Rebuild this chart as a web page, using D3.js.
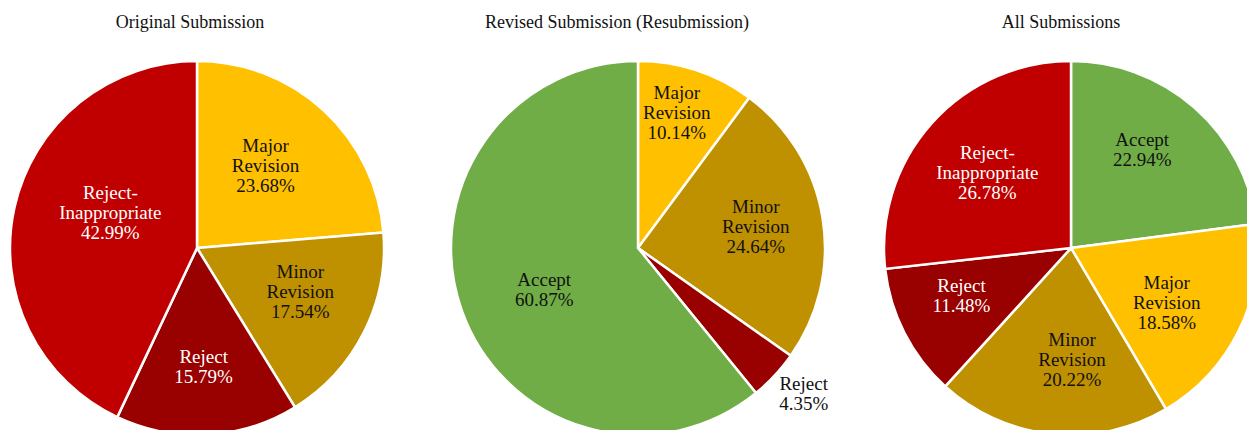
<!DOCTYPE html>
<html>
<head>
<meta charset="utf-8">
<title>Submissions</title>
<script src="https://d3js.org/d3.v7.min.js"></script>
<style>
  body { margin: 0; background: #fff; }
  svg text { font-family: "Liberation Serif", "DejaVu Serif", serif; }
</style>
</head>
<body>
<svg id="chart" width="1247" height="430"></svg>
<script>
// categories and values, clockwise from 12 o'clock
var originalCats = ["Major Revision", "Minor Revision", "Reject", "Reject-Inappropriate"];
var originalVals = [23.68, 17.54, 15.79, 42.99];

var revisedCats = ["Major Revision", "Minor Revision", "Reject", "Accept"];
var revisedVals = [10.14, 24.64, 4.35, 60.87];

var allCats = ["Accept", "Major Revision", "Minor Revision", "Reject", "Reject-Inappropriate"];
var allVals = [22.94, 18.58, 20.22, 11.48, 26.78];

var titles = ["Original Submission", "Revised Submission (Resubmission)", "All Submissions"];

var colors = {
  "Accept": "#70ad47",
  "Major Revision": "#ffc000",
  "Minor Revision": "#bf9000",
  "Reject": "#990000",
  "Reject-Inappropriate": "#c00000"
};
var textColors = {
  "Accept": "#111",
  "Major Revision": "#111",
  "Minor Revision": "#111",
  "Reject": "#fff",
  "Reject-Inappropriate": "#fff"
};

// label split into lines
var labelLines = {
  "Accept": ["Accept"],
  "Major Revision": ["Major", "Revision"],
  "Minor Revision": ["Minor", "Revision"],
  "Reject": ["Reject"],
  "Reject-Inappropriate": ["Reject-", "Inappropriate"]
};

// layout: label distance (fraction of radius) and angle nudge (degrees) per slice
var labelRadius = [
  [0.57, 0.6, 0.64, 0.5],
  [0.75, 0.64, 1.18, 0.55],
  [0.65, 0.59, 0.6, 0.64, 0.6]
];
var labelNudge = [
  [-2.6, -3.8, 0, 9.4],
  [-2.2, -1.1, -1.7, -4.7],
  [-5.4, 3.8, -6.4, 3.3, 0]
];

// pie centre and title centre for each panel
var charts = [
  { cats: originalCats, vals: originalVals, cx: 197, tx: 190 },
  { cats: revisedCats, vals: revisedVals, cx: 638, tx: 617 },
  { cats: allCats, vals: allVals, cx: 1071, tx: 1061 }
];

var svg = d3.select("#chart");
var cy = 248, r = 187;

var pie = d3.pie().sort(null).value(d => d.v);
var arc = d3.arc().innerRadius(0).outerRadius(r);

charts.forEach(function(c, ci) {
  var g = svg.append("g").attr("transform", "translate(" + c.cx + "," + cy + ")");

  svg.append("text")
    .attr("x", c.tx)
    .attr("y", 28)
    .attr("text-anchor", "middle")
    .style("font-size", "18px")
    .style("fill", "#111")
    .text(titles[ci]);

  var data = c.cats.map((k, i) => ({ k: k, v: c.vals[i], i: i }));
  var arcs = pie(data);

  g.selectAll("path")
    .data(arcs)
    .enter().append("path")
    .attr("d", arc)
    .attr("fill", d => colors[d.data.k])
    .attr("stroke", "#fff")
    .attr("stroke-width", 2.5);

  g.selectAll("text.lab")
    .data(arcs)
    .enter().append("text")
    .attr("class", "lab")
    .attr("text-anchor", "middle")
    .style("font-size", "19px")
    .each(function(d) {
      var f = labelRadius[ci][d.data.i];
      var a = (d.startAngle + d.endAngle) / 2 + labelNudge[ci][d.data.i] * Math.PI / 180;
      var x = Math.sin(a) * r * f;
      var y = -Math.cos(a) * r * f;
      var outside = f > 1;
      var lines = labelLines[d.data.k].concat([d.data.v.toFixed(2) + "%"]);
      var t = d3.select(this)
        .attr("transform", "translate(" + x + "," + y + ")")
        .style("fill", outside ? "#111" : textColors[d.data.k]);
      var lh = 20;
      var y0 = -((lines.length - 1) * lh) / 2 + 6;
      lines.forEach(function(s, li) {
        t.append("tspan").attr("x", 0).attr("y", y0 + li * lh).text(s);
      });
    });
});
</script>
</body>
</html>
